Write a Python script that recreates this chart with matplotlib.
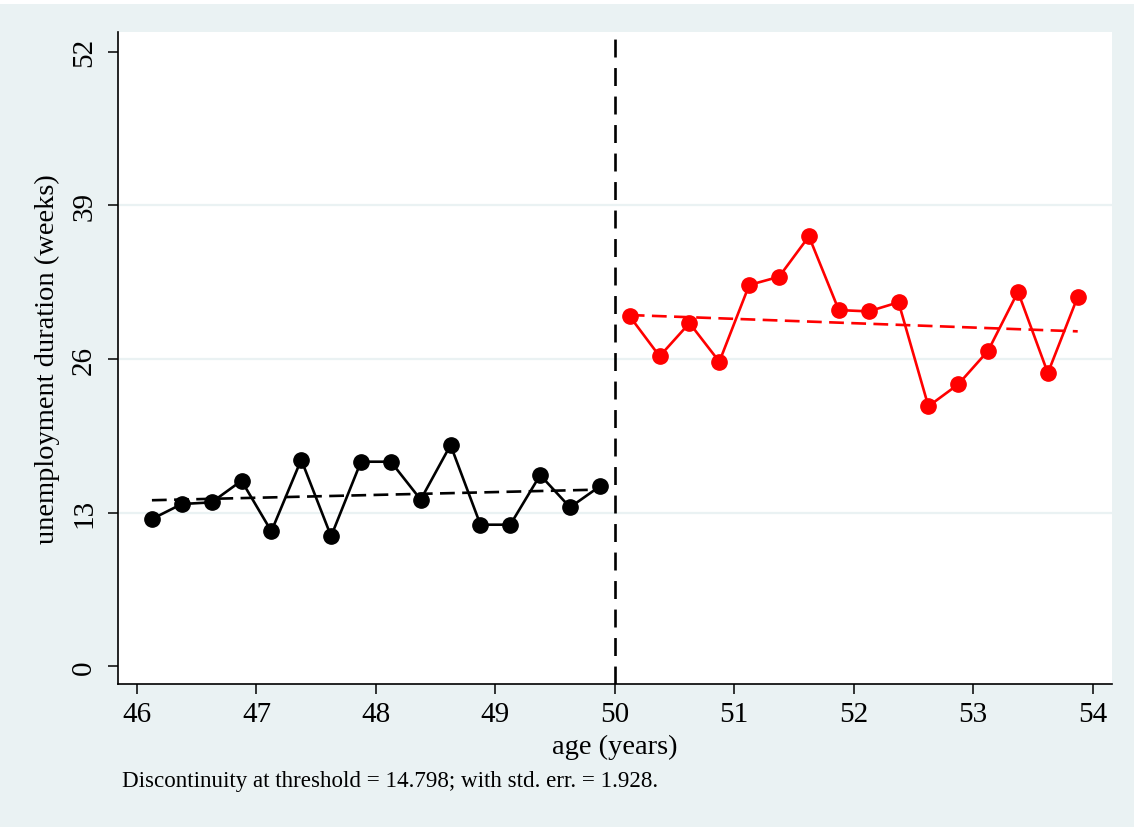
import matplotlib.pyplot as plt
from matplotlib.patches import Rectangle

# binned means, left of threshold
age_left = [46.125, 46.375, 46.625, 46.875, 47.125, 47.375, 47.625, 47.875,
            48.125, 48.375, 48.625, 48.875, 49.125, 49.375, 49.625, 49.875]
dur_left = [12.46, 13.73, 13.87, 15.70, 11.42, 17.48, 11.00, 17.31,
            17.31, 14.10, 18.72, 11.98, 11.98, 16.18, 13.45, 15.23]

# binned means, right of threshold
age_right = [50.125, 50.375, 50.625, 50.875, 51.125, 51.375, 51.625, 51.875,
             52.125, 52.375, 52.625, 52.875, 53.125, 53.375, 53.625, 53.875]
dur_right = [29.61, 26.23, 29.04, 25.77, 32.26, 32.96, 36.38, 30.14,
             30.03, 30.80, 22.00, 23.86, 26.70, 31.69, 24.81, 31.27]

# linear fits (end points)
fit_left_x = [46.125, 49.875]
fit_left_y = [14.05, 14.95]
fit_right_x = [50.125, 53.875]
fit_right_y = [29.72, 28.34]

threshold = 50
yticks = [0, 13, 26, 39, 52]
xticks = [46, 47, 48, 49, 50, 51, 52, 53, 54]
note = "Discontinuity at threshold = 14.798; with std. err. = 1.928."

bg = '#eaf2f3'
plt.rcParams['font.family'] = ['Liberation Serif', 'DejaVu Serif']

fig = plt.figure(figsize=(11.34, 8.28), dpi=100, facecolor=bg)
fig.patches.append(Rectangle((0, 1 - 5 / 828), 1, 5 / 828, transform=fig.transFigure,
                             facecolor='white', edgecolor='none', zorder=-1))
ax = fig.add_axes([118 / 1134, 1 - 685 / 828, (1112 - 118) / 1134, (685 - 33) / 828])
ax.set_facecolor('white')

for g in [13, 26, 39]:
    ax.axhline(g, color=bg, lw=1.6, zorder=0)

ax.plot(age_left, dur_left, color='black', lw=1.9, marker='o', ms=11, zorder=3)
ax.plot(fit_left_x, fit_left_y, color='black', lw=1.9, dashes=(5.6, 2.8), zorder=2)
ax.plot(age_right, dur_right, color='#ff0000', lw=1.9, marker='o', ms=11, zorder=3)
ax.plot(fit_right_x, fit_right_y, color='#ff0000', lw=1.9, dashes=(5.6, 2.8), zorder=2)
ax.axvline(threshold, color='black', lw=1.9, dashes=(6.8, 4), zorder=2)

ax.set_xlim(45.841, 54.162)
ax.set_ylim(-1.5, 53.67)
ax.set_xticks(xticks)
ax.set_yticks(yticks)
ax.set_yticklabels([str(t) for t in yticks], rotation=90, va='center')
ax.tick_params(axis='both', direction='out', length=7, width=1.1, labelsize=21, pad=5)
ax.tick_params(axis='y', pad=8)
for s in ['top', 'right']:
    ax.spines[s].set_visible(False)
for s in ['left', 'bottom']:
    ax.spines[s].set_linewidth(1.2)

ax.set_xlabel('age (years)', fontsize=20.5, labelpad=5)
ax.set_ylabel('unemployment duration (weeks)', fontsize=20.5, labelpad=8)
fig.text(122 / 1134, 1 - 782 / 828, note, fontsize=16.6, va='center', ha='left')

fig.savefig('out.png', dpi=100, facecolor=bg)
